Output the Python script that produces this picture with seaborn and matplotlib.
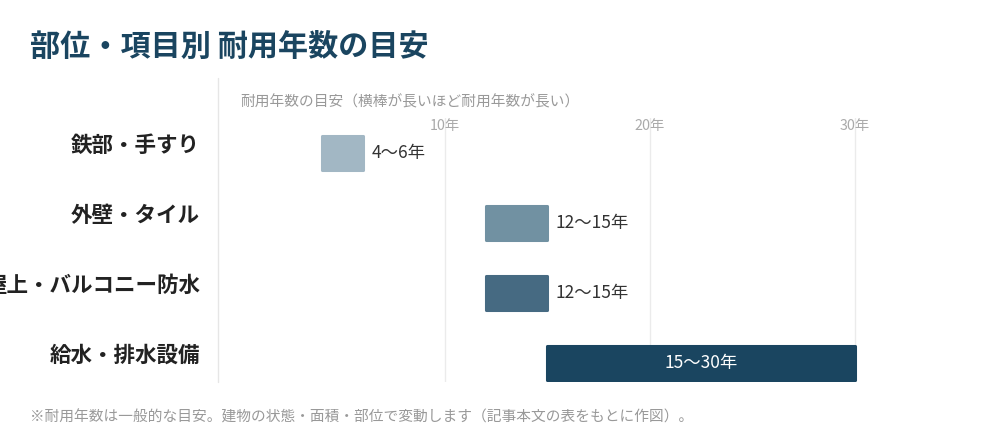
import matplotlib
matplotlib.use("Agg")
import matplotlib.pyplot as plt
import matplotlib.transforms as mtransforms
import seaborn as sns
from matplotlib.lines import Line2D

# ---- data ----
categories = ["鉄部・手すり", "外壁・タイル", "屋上・バルコニー防水", "給水・排水設備"]
start_years = [4, 12, 12, 15]
end_years = [6, 15, 15, 30]
tick_values = [10, 20, 30]
tick_labels = ["10年", "20年", "30年"]
bar_colors = ["#a2b7c4", "#7191a2", "#466a82", "#1a4560"]

title = "部位・項目別 耐用年数の目安"
subtitle = "耐用年数の目安（横棒が長いほど耐用年数が長い）"
footnote = "※耐用年数は一般的な目安。建物の状態・面積・部位で変動します（記事本文の表をもとに作図）。"

sns.set_theme(style="white")
plt.rcParams["font.family"] = ["Noto Sans CJK JP", "DejaVu Sans"]

durations = [e - s for s, e in zip(start_years, end_years)]

fig = plt.figure(figsize=(10, 4.4), dpi=100)
ax = fig.add_axes([0.218, 1 - 382 / 440, (957.5 - 218) / 1000, (382 - 118) / 440])

sns.barplot(x=durations, y=categories, hue=categories, palette=bar_colors,
            saturation=1, legend=False, width=0.49, orient="h", ax=ax)

# float bars to their start year, rounded corners
for patch, s, c in zip(ax.patches, start_years, bar_colors):
    patch.set_x(s)
    patch.set_edgecolor(c)
    patch.set_linewidth(2.2)
    patch.set_joinstyle("round")

ax.set_xlim(-1.073, 35.0)
ax.set_ylim(3.271, -0.5)

ax.set_xticks(tick_values)
ax.set_xticklabels(tick_labels)
ax.xaxis.tick_top()
ax.tick_params(axis="x", length=0, pad=-11, labelsize=10.3, labelcolor="#aaaaaa")
ax.grid(axis="x", color="#ebebeb", lw=1)
ax.grid(axis="y", visible=False)
ax.set_axisbelow(True)

ax.set_yticks(range(len(categories)))
ax.set_yticklabels(categories, fontsize=15.5, fontweight="bold", color="#222222")
ax.tick_params(axis="y", length=0, pad=13)
shift = mtransforms.ScaledTranslation(0, 0.10, fig.dpi_scale_trans)
for lbl in ax.get_yticklabels():
    lbl.set_transform(lbl.get_transform() + shift)
ax.set_xlabel("")
ax.set_ylabel("")
for sp in ax.spines.values():
    sp.set_visible(False)

# value labels
for i, (s, e) in enumerate(zip(start_years, end_years)):
    lab = f"{s}〜{e}年"
    if e - s >= 10:
        ax.text((s + e) / 2, i, lab, ha="center", va="center", fontsize=12.5, color="white")
    else:
        ax.text(e + 0.4, i, lab, ha="left", va="center", fontsize=12.5, color="#333333")

# separator line
fig.add_artist(Line2D([0.218, 0.218], [1 - 78 / 440, 1 - 382 / 440],
                      transform=fig.transFigure, color="#e6e6e6", lw=1))

fig.text(0.030, 1 - 47 / 440, title, fontsize=21.7, fontweight="bold",
         color="#1a4560", va="center", ha="left")
fig.text(0.240, 1 - 102 / 440, subtitle, fontsize=10.6, color="#999999",
         va="center", ha="left")
fig.text(0.030, 1 - 417 / 440, footnote, fontsize=10.6, color="#999999",
         va="center", ha="left")

fig.savefig("out.png", dpi=100, facecolor="white")
